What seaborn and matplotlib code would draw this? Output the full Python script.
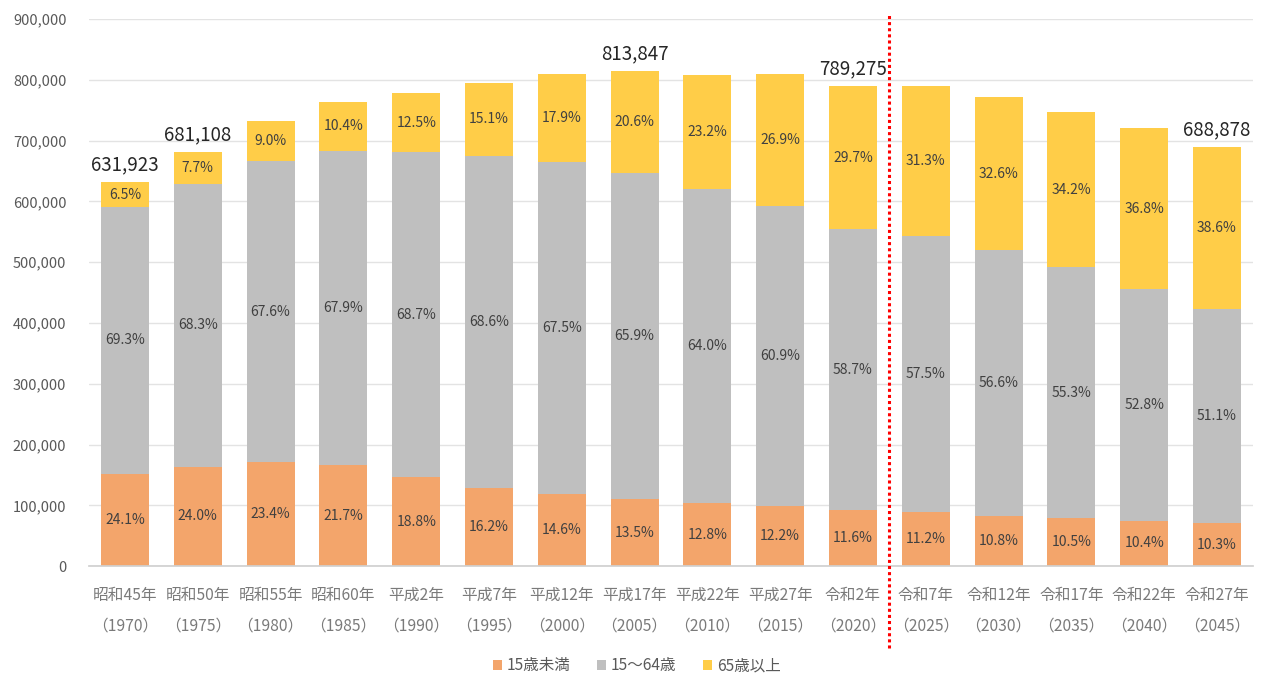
import matplotlib
matplotlib.use("Agg")
import matplotlib.pyplot as plt
from matplotlib.patches import Patch
import seaborn as sns
import numpy as np
import pandas as pd

# 年次ラベル（和暦／西暦）
eras = ["昭和45年", "昭和50年", "昭和55年", "昭和60年", "平成2年", "平成7年", "平成12年", "平成17年",
        "平成22年", "平成27年", "令和2年", "令和7年", "令和12年", "令和17年", "令和22年", "令和27年"]
years = ["1970", "1975", "1980", "1985", "1990", "1995", "2000", "2005",
         "2010", "2015", "2020", "2025", "2030", "2035", "2040", "2045"]

# 総人口
total = [631923, 681108, 732000, 763000, 778000, 796000, 809000, 813847,
         808000, 810000, 789275, 790000, 771000, 747000, 720000, 688878]

# 年齢3区分の構成比（%）
pct_young = [24.1, 24.0, 23.4, 21.7, 18.8, 16.2, 14.6, 13.5, 12.8, 12.2, 11.6, 11.2, 10.8, 10.5, 10.4, 10.3]
pct_work = [69.3, 68.3, 67.6, 67.9, 68.7, 68.6, 67.5, 65.9, 64.0, 60.9, 58.7, 57.5, 56.6, 55.3, 52.8, 51.1]
pct_old = [6.5, 7.7, 9.0, 10.4, 12.5, 15.1, 17.9, 20.6, 23.2, 26.9, 29.7, 31.3, 32.6, 34.2, 36.8, 38.6]

# 総数を表示する年
labeled_totals = ["1970", "1975", "2005", "2020", "2045"]

series_names = ["15歳未満", "15～64歳", "65歳以上"]
colors = ["#F3A56B", "#BFBFBF", "#FFCD48"]

sns.set_theme(style="white")
plt.rcParams["font.family"] = ["Noto Sans CJK JP", "DejaVu Sans"]

cats = [f"{e}\n（{y}）" for e, y in zip(eras, years)]
tot = np.array(total, dtype=float)
young = tot * np.array(pct_young) / 100
work = tot * np.array(pct_work) / 100
old = tot * np.array(pct_old) / 100

df = pd.DataFrame({"cat": cats, "young": young, "work": work, "old": old})

fig = plt.figure(figsize=(12.66, 6.78), dpi=100)
ax = fig.add_axes([0.070, 0.165, 0.920, 0.807])

layers = [("young", pct_young, np.zeros(len(cats))),
          ("work", pct_work, young),
          ("old", pct_old, young + work)]
for (col, pcts, base), color in zip(layers, colors):
    sns.barplot(data=df, x="cat", y=col, order=cats, bottom=base, color=color,
                width=0.66, saturation=1, ax=ax, linewidth=0, zorder=2)
    vals = df[col].values
    for i, (b, v, p) in enumerate(zip(base, vals, pcts)):
        ax.text(i, b + v / 2, f"{p:.1f}%", ha="center", va="center",
                fontsize=10, color="#404040", zorder=3)

for i, (y, t) in enumerate(zip(years, total)):
    if y in labeled_totals:
        ax.text(i, t + 11000, f"{t:,}", ha="center", va="bottom",
                fontsize=13.5, color="#262626", zorder=3)

ax.set_ylim(0, 900000)
ax.set_xlim(-0.5, len(cats) - 0.5)
ax.set_yticks(np.arange(0, 900001, 100000))
ax.yaxis.set_major_formatter(matplotlib.ticker.FuncFormatter(lambda v, _: f"{int(v):,}"))
ax.grid(axis="y", color="#E3E3E3", linewidth=1, zorder=0)
ax.set_axisbelow(True)
for s in ["top", "right", "left"]:
    ax.spines[s].set_visible(False)
ax.spines["bottom"].set_color("#D0D0D0")
ax.set_xlabel("")
ax.set_ylabel("")
ax.tick_params(axis="y", length=0, pad=16, labelsize=10.5, labelcolor="#595959")
ax.tick_params(axis="x", length=0, pad=15, labelsize=11.3, labelcolor="#7A7A7A")
for lab in ax.get_xticklabels():
    lab.set_linespacing(2.05)

# 推計値との境界
ax.axvline(10.5, ymin=-0.15, ymax=1.008, color="#FF0000", linewidth=2.2,
           linestyle=(0, (1, 1)), clip_on=False, zorder=4)

handles = [Patch(facecolor=c, edgecolor="none") for c in colors]
fig.legend(handles, series_names, loc="center", bbox_to_anchor=(0.503, 0.018),
           ncol=3, frameon=False, fontsize=11.2, handlelength=0.6, handleheight=0.6,
           handletextpad=0.3, columnspacing=1.7, labelcolor="#595959")

fig.savefig("out.png", dpi=100, facecolor="white")
